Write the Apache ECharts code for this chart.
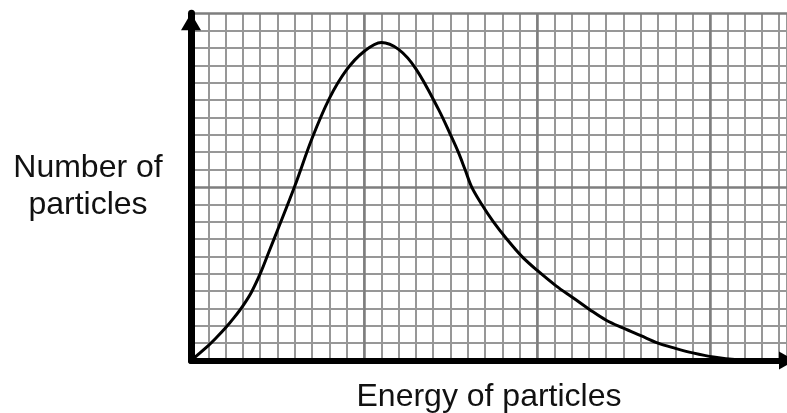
<!DOCTYPE html>
<html>
<head>
<meta charset="utf-8">
<script src="https://cdn.jsdelivr.net/npm/echarts@6/dist/echarts.min.js"></script>
<style>
  html, body { margin: 0; padding: 0; background: #fff; }
  #main { width: 787px; height: 413px; }
</style>
</head>
<body>
<div id="main"></div>
<script>
// energy (x, grid squares) and number of particles (y, grid squares)
var energy = [0, 1, 1.5, 2, 2.5, 3, 3.5, 4, 4.5, 5, 6, 7, 8, 9, 10, 11, 12, 13, 14.3, 15.0, 15.45, 15.84, 16.22, 16.8, 17.47, 18.25, 19.12, 20.0, 21.1, 22.1, 23.05, 24.0, 25.0, 26.0, 27.0, 28.0, 29.0, 30.2, 31.6, 33.0, 34.45];
var particles = [0, 0.86, 1.35, 1.88, 2.48, 3.15, 3.95, 5.0, 6.25, 7.5, 10.05, 12.8, 15.1, 16.75, 17.8, 18.32, 17.92, 16.8, 14.48, 13.0, 12.0, 11.0, 10.0, 9.0, 8.0, 7.0, 6.0, 5.2, 4.3, 3.6, 2.93, 2.32, 1.86, 1.43, 1.0, 0.7, 0.44, 0.2, 0.04, 0, 0];

var xMax = 34.45;
var yMax = 20;

var minorLine = { color: '#979797', width: 2 };
var majorLine = { color: '#7e7e7e', width: 2.5 };

var myChart = echarts.init(document.getElementById('main'));

var option = {
    animation: false,
    backgroundColor: '#fff',
    textStyle: { fontFamily: 'Liberation Sans, Arial, sans-serif', color: '#000' },
    grid: { left: 191, right: 0, top: 13.3, bottom: 52.5, outerBoundsMode: 'none', containLabel: false },
    xAxis: [{
        // fine grid, one line per square
        type: 'value', min: 0, max: xMax, interval: 1, position: 'bottom', z: 0,
        axisLine: { show: false }, axisTick: { show: false }, axisLabel: { show: false },
        splitLine: { show: true, showMinLine: false, lineStyle: minorLine }
    }, {
        // heavy lines every 10 squares + the axis itself
        type: 'value', min: 0, max: xMax, interval: 10, position: 'bottom', z: 1,
        name: 'Energy of particles',
        nameLocation: 'middle',
        nameGap: 21,
        nameTextStyle: { fontSize: 32, lineHeight: 32, color: '#111' },
        axisLine: {
            show: true,
            symbol: ['none', 'triangle'],
            symbolSize: [18, 16],
            symbolOffset: [0, 0],
            lineStyle: { color: '#000', width: 6 }
        },
        axisTick: { show: false }, axisLabel: { show: false },
        splitLine: { show: true, showMinLine: false, showMaxLine: false, lineStyle: majorLine }
    }],
    yAxis: {
        type: 'value', min: 0, max: yMax, interval: 10, z: 1,
        name: 'Number of\nparticles',
        nameLocation: 'middle',
        nameRotate: 0,
        nameGap: 103,
        nameTextStyle: { fontSize: 32, lineHeight: 37, align: 'center', verticalAlign: 'middle', padding: [8, 0, 0, 0], color: '#111' },
        axisLine: {
            show: true,
            symbol: ['none', 'triangle'],
            symbolSize: [20, 17],
            symbolOffset: [0, -8.5],
            lineStyle: { color: '#000', width: 7 }
        },
        axisTick: { show: false }, axisLabel: { show: false },
        splitLine: { show: true, showMinLine: false, lineStyle: majorLine },
        minorTick: { show: false, splitNumber: 10 },
        minorSplitLine: { show: true, lineStyle: minorLine }
    },
    series: [{
        type: 'line',
        xAxisIndex: 0,
        yAxisIndex: 0,
        z: 5,
        smooth: 0.35,
        showSymbol: false,
        symbol: 'none',
        lineStyle: { color: '#000', width: 3 },
        data: energy.map(function (e, i) { return [e, particles[i]]; })
    }]
};
myChart.setOption(option);
</script>
</body>
</html>
